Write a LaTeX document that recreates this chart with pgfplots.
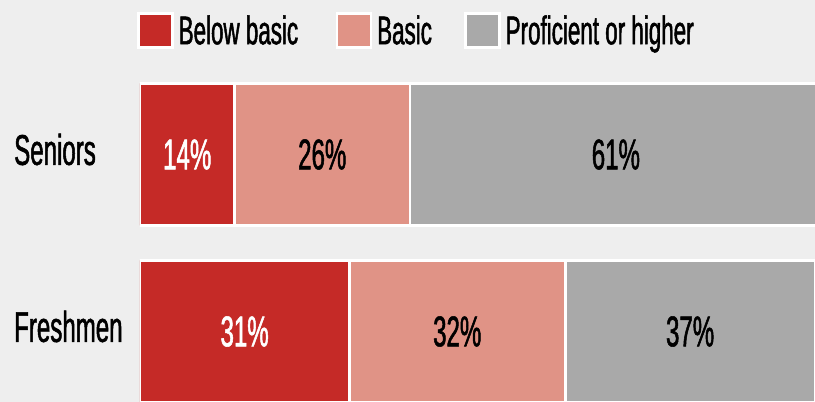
\documentclass[border=0pt]{standalone}
\usepackage{fontspec}
\setmainfont{Liberation Sans}[FakeStretch=0.56, FakeBold=1.2]
\usepackage{pgfplots}
\pgfplotsset{compat=1.18}
\definecolor{bgcol}{HTML}{EEEEEE}
\definecolor{cred}{HTML}{C52A27}
\definecolor{csal}{HTML}{E09386}
\definecolor{cgray}{HTML}{A9A9A9}
\begin{document}
\begin{tikzpicture}
\useasboundingbox (0,0) rectangle (815pt,402pt);
\fill[bgcol] (0,0) rectangle (815pt,402pt);
\begin{axis}[
  at={(140pt,0pt)}, anchor=south west,
  scale only axis,
  x=6.75pt, y=177pt,
  xmin=0, xmax=101, ymin=-0.3983, ymax=1.8729,
  xbar stacked, bar width=142pt,
  axis line style={draw=none},
  xtick=\empty,
  ytick={0,1}, yticklabels={Freshmen,Seniors},
  major tick length=0pt, tick style={draw=none},
  yticklabel style={anchor=west, xshift=-126pt, yshift=5pt, inner sep=0pt, font=\fontsize{43}{43}\selectfont},
  visualization depends on=rawx \as \rawx,
  nodes near coords={\pgfmathprintnumber[assume math mode=true]{\rawx}\%},
  every node near coord/.append style={anchor=center, font=\fontsize{43}{43}\selectfont, text=black},
  legend columns=-1,
  legend style={at={(-0.00444,0.970)}, anchor=north west, draw=none, fill=none, inner sep=0pt,
    font=\fontsize{40}{40}\selectfont,
    nodes={inner xsep=5pt},
    /tikz/every even column/.append style={column sep=37pt}},
  legend image code/.code={\fill[#1] (0pt,-17pt) rectangle (34pt,17pt);},
]
\addplot[fill=cred, draw=white, line width=2.5pt, every node near coord/.append style={text=white}] coordinates {(31,0) (14,1)};
\addlegendentry{\makebox[115pt][l]{Below basic}}
\addplot[fill=csal, draw=white, line width=2.5pt] coordinates {(32,0) (26,1)};
\addlegendentry{\makebox[45pt][l]{Basic}}
\addplot[fill=cgray, draw=white, line width=2.5pt] coordinates {(37,0) (61,1)};
\addlegendentry{Proficient or higher}
\end{axis}
\end{tikzpicture}
\end{document}
